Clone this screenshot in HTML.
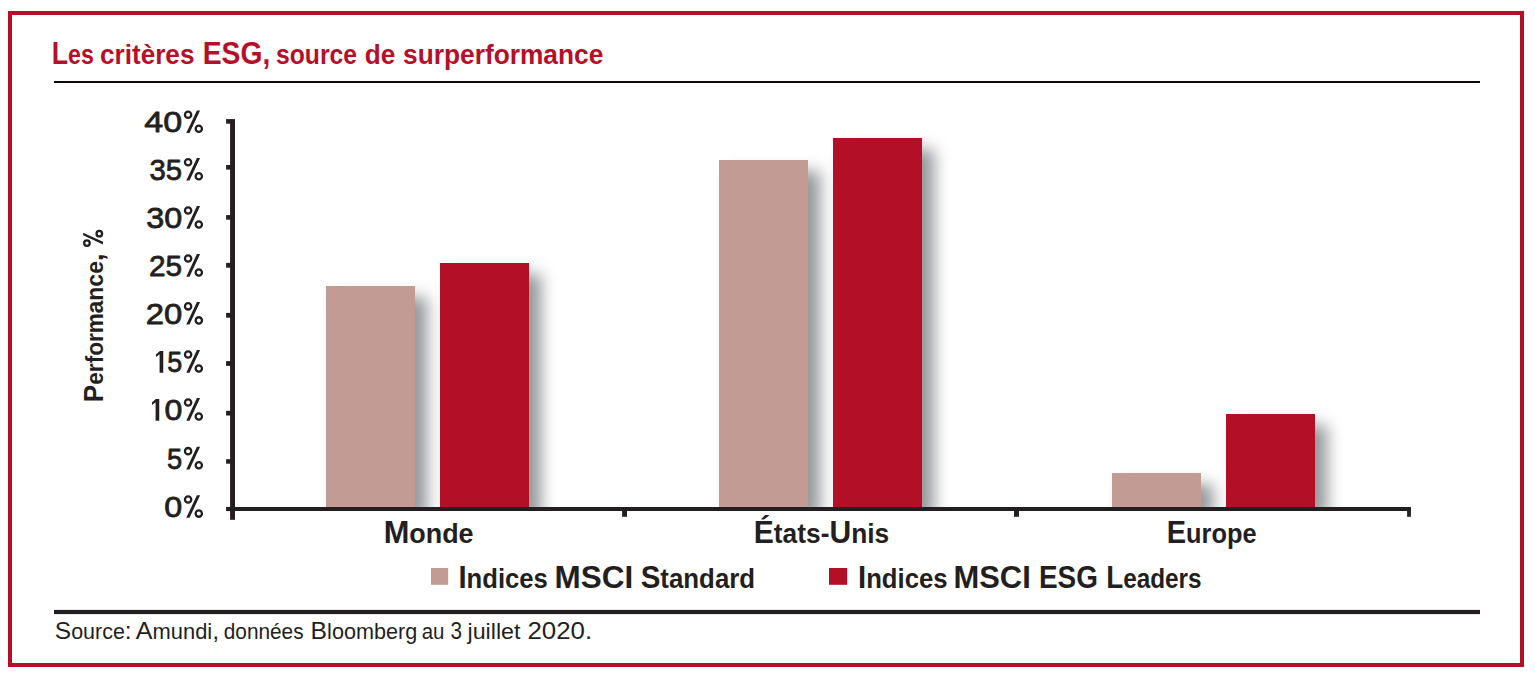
<!DOCTYPE html>
<html lang="fr">
<head>
<meta charset="utf-8">
<title>Les critères ESG, source de surperformance</title>
<style>
  html, body { margin: 0; padding: 0; background: #ffffff; }
  body { width: 1535px; height: 674px; position: relative; overflow: hidden;
         font-family: "Liberation Sans", sans-serif; color: #231f20; }
  .plot { position: absolute; left: 235px; top: 100px; width: 1200px; height: 407px; overflow: hidden; }
  .bar { position: absolute; width: 89px; bottom: 0; box-shadow: 12px 11px 15px rgb(148,150,154); }
  .std { background: #c29b94; }
  .esg { background: #b30f27; }
  svg.ov { position: absolute; left: 0; top: 0; font-family: "Liberation Sans", sans-serif; }
  svg.ov text { white-space: pre; }
</style>
</head>
<body>
  <!-- plot area with bars (shadows clipped at the x axis) -->
  <div class="plot">
    <div class="bar std" style="left:91px;  height:221px;"></div>
    <div class="bar esg" style="left:205px; height:244px;"></div>
    <div class="bar std" style="left:484px; height:347px;"></div>
    <div class="bar esg" style="left:598px; height:369px;"></div>
    <div class="bar std" style="left:877px; height:34px;"></div>
    <div class="bar esg" style="left:991px; height:93px;"></div>
  </div>

  <svg class="ov" width="1535" height="674" viewBox="0 0 1535 674">
    <!-- outer frame -->
    <rect x="10" y="13" width="1512" height="652" fill="none" stroke="#b50f29" stroke-width="4"/>
    <!-- rules -->
    <rect x="54" y="81" width="1426" height="2" fill="#0d0909"/>
    <rect x="54" y="609.9" width="1426" height="4.2" fill="#231f20"/>
    <!-- axes -->
    <g fill="#231f20">
      <rect x="230.1" y="119.1" width="4.9" height="400.7"/>
      <rect x="230.1" y="507" width="1180.8" height="4"/>
      <rect x="226.1" y="119.1" width="5" height="4.6"/>
      <rect x="226.1" y="165" width="5" height="4.6"/>
      <rect x="226.1" y="215.1" width="5" height="4.6"/>
      <rect x="226.1" y="262.9" width="5" height="4.8"/>
      <rect x="226.1" y="312.9" width="5" height="4.8"/>
      <rect x="226.1" y="361.1" width="5" height="4.8"/>
      <rect x="226.1" y="410.8" width="5" height="4.7"/>
      <rect x="226.1" y="459.2" width="5" height="4.5"/>
      <rect x="226.1" y="506.9" width="5" height="4.2"/>
      <rect x="622.1" y="507" width="4.9" height="9.8"/>
      <rect x="1014" y="507" width="5" height="9.8"/>
      <rect x="1407.1" y="507" width="3.8" height="9.8"/>
    </g>
    <rect x="431" y="568" width="17.2" height="16.8" fill="#c29b94"/>
    <rect x="829" y="568" width="18.2" height="16.8" fill="#b30f27"/>
    <!-- custom % and 1 glyphs for tick labels -->
    <circle cx="188.1" cy="114.75" r="3.15" fill="none" stroke="#231f20" stroke-width="2.3"/>
    <circle cx="198.8" cy="128.80" r="3.15" fill="none" stroke="#231f20" stroke-width="2.3"/>
    <polygon points="196.9,110.40 200.1,110.40 189.5,133.00 186.3,133.00" fill="#231f20"/>
    <circle cx="188.1" cy="162.25" r="3.15" fill="none" stroke="#231f20" stroke-width="2.3"/>
    <circle cx="198.8" cy="176.30" r="3.15" fill="none" stroke="#231f20" stroke-width="2.3"/>
    <polygon points="196.9,157.90 200.1,157.90 189.5,180.50 186.3,180.50" fill="#231f20"/>
    <circle cx="188.1" cy="210.45" r="3.15" fill="none" stroke="#231f20" stroke-width="2.3"/>
    <circle cx="198.8" cy="224.50" r="3.15" fill="none" stroke="#231f20" stroke-width="2.3"/>
    <polygon points="196.9,206.10 200.1,206.10 189.5,228.70 186.3,228.70" fill="#231f20"/>
    <circle cx="188.1" cy="258.45" r="3.15" fill="none" stroke="#231f20" stroke-width="2.3"/>
    <circle cx="198.8" cy="272.50" r="3.15" fill="none" stroke="#231f20" stroke-width="2.3"/>
    <polygon points="196.9,254.10 200.1,254.10 189.5,276.70 186.3,276.70" fill="#231f20"/>
    <circle cx="188.1" cy="306.35" r="3.15" fill="none" stroke="#231f20" stroke-width="2.3"/>
    <circle cx="198.8" cy="320.40" r="3.15" fill="none" stroke="#231f20" stroke-width="2.3"/>
    <polygon points="196.9,302.00 200.1,302.00 189.5,324.60 186.3,324.60" fill="#231f20"/>
    <circle cx="188.1" cy="354.45" r="3.15" fill="none" stroke="#231f20" stroke-width="2.3"/>
    <circle cx="198.8" cy="368.50" r="3.15" fill="none" stroke="#231f20" stroke-width="2.3"/>
    <polygon points="196.9,350.10 200.1,350.10 189.5,372.70 186.3,372.70" fill="#231f20"/>
    <polygon points="163.25,350.90 159.90,350.90 155.90,354.40 156.10,357.10 159.60,354.20 159.60,372.70 163.25,372.70" fill="#231f20"/>
    <circle cx="188.1" cy="402.45" r="3.15" fill="none" stroke="#231f20" stroke-width="2.3"/>
    <circle cx="198.8" cy="416.50" r="3.15" fill="none" stroke="#231f20" stroke-width="2.3"/>
    <polygon points="196.9,398.10 200.1,398.10 189.5,420.70 186.3,420.70" fill="#231f20"/>
    <polygon points="159.25,398.90 155.90,398.90 151.90,402.40 152.10,405.10 155.60,402.20 155.60,420.70 159.25,420.70" fill="#231f20"/>
    <circle cx="188.1" cy="451.15" r="3.15" fill="none" stroke="#231f20" stroke-width="2.3"/>
    <circle cx="198.8" cy="465.20" r="3.15" fill="none" stroke="#231f20" stroke-width="2.3"/>
    <polygon points="196.9,446.80 200.1,446.80 189.5,469.40 186.3,469.40" fill="#231f20"/>
    <circle cx="188.1" cy="499.55" r="3.15" fill="none" stroke="#231f20" stroke-width="2.3"/>
    <circle cx="198.8" cy="513.60" r="3.15" fill="none" stroke="#231f20" stroke-width="2.3"/>
    <polygon points="196.9,495.20 200.1,495.20 189.5,517.80 186.3,517.80" fill="#231f20"/>
    <!-- text -->
    <text x="51.83" y="64.0" textLength="42.04" lengthAdjust="spacingAndGlyphs" font-size="31.9" font-weight="bold" fill="#b50f29">L<tspan font-size="27.91">es</tspan></text>
    <text x="100.06" y="64.0" textLength="94.37" lengthAdjust="spacingAndGlyphs" font-size="31.9" font-weight="bold" fill="#b50f29"><tspan font-size="27.91">critères</tspan></text>
    <text x="202.71" y="64.0" textLength="67.56" lengthAdjust="spacingAndGlyphs" font-size="31.9" font-weight="bold" fill="#b50f29">ESG,</text>
    <text x="276.01" y="64.0" textLength="81.09" lengthAdjust="spacingAndGlyphs" font-size="31.9" font-weight="bold" fill="#b50f29"><tspan font-size="27.91">source</tspan></text>
    <text x="364.73" y="64.0" textLength="30.59" lengthAdjust="spacingAndGlyphs" font-size="31.9" font-weight="bold" fill="#b50f29"><tspan font-size="27.91">de</tspan></text>
    <text x="403.06" y="64.0" textLength="200.27" lengthAdjust="spacingAndGlyphs" font-size="31.9" font-weight="bold" fill="#b50f29"><tspan font-size="27.91">surperformance</tspan></text>
    <text x="144.32" y="132.3" textLength="37.89" lengthAdjust="spacingAndGlyphs" font-size="30.4" font-weight="normal" fill="#231f20" stroke="#231f20" stroke-width="0.8" stroke-linejoin="round">40</text>
    <text x="149.48" y="179.8" textLength="32.61" lengthAdjust="spacingAndGlyphs" font-size="30.4" font-weight="normal" fill="#231f20" stroke="#231f20" stroke-width="0.8" stroke-linejoin="round">35</text>
    <text x="146.2" y="228.0" textLength="35.96" lengthAdjust="spacingAndGlyphs" font-size="30.4" font-weight="normal" fill="#231f20" stroke="#231f20" stroke-width="0.8" stroke-linejoin="round">30</text>
    <text x="148.98" y="276.0" textLength="33.12" lengthAdjust="spacingAndGlyphs" font-size="30.4" font-weight="normal" fill="#231f20" stroke="#231f20" stroke-width="0.8" stroke-linejoin="round">25</text>
    <text x="145.65" y="323.9" textLength="36.53" lengthAdjust="spacingAndGlyphs" font-size="30.4" font-weight="normal" fill="#231f20" stroke="#231f20" stroke-width="0.8" stroke-linejoin="round">20</text>
    <text x="167.14" y="372.0" textLength="14.97" lengthAdjust="spacingAndGlyphs" font-size="30.4" font-weight="normal" fill="#231f20" stroke="#231f20" stroke-width="0.8" stroke-linejoin="round">5</text>
    <text x="164.41" y="420.0" textLength="17.85" lengthAdjust="spacingAndGlyphs" font-size="30.4" font-weight="normal" fill="#231f20" stroke="#231f20" stroke-width="0.8" stroke-linejoin="round">0</text>
    <text x="166.93" y="468.7" textLength="15.19" lengthAdjust="spacingAndGlyphs" font-size="30.4" font-weight="normal" fill="#231f20" stroke="#231f20" stroke-width="0.8" stroke-linejoin="round">5</text>
    <text x="164.3" y="517.1" textLength="17.96" lengthAdjust="spacingAndGlyphs" font-size="30.4" font-weight="normal" fill="#231f20" stroke="#231f20" stroke-width="0.8" stroke-linejoin="round">0</text>
    <g transform="translate(103 400.5) rotate(-90)">
      <text x="-1.7" y="0" textLength="88.98" lengthAdjust="spacingAndGlyphs" font-size="27" font-weight="bold" fill="#231f20">P<tspan font-size="23.22">erform</tspan></text>
      <text x="87.06" y="0" textLength="59.83" lengthAdjust="spacingAndGlyphs" font-size="27" font-weight="bold" fill="#231f20"><tspan font-size="23.22">ance</tspan>,</text>
      <g transform="translate(153.7 0) scale(0.88)"><circle cx="4.2" cy="-18.25" r="3.15" fill="none" stroke="#231f20" stroke-width="2.6"/><circle cx="14.9" cy="-4.2" r="3.15" fill="none" stroke="#231f20" stroke-width="2.6"/><polygon points="13.1,-22.6 16.1,-22.6 5.6,0 2.6,0" fill="#231f20"/></g>
    </g>
    <text x="383.64" y="542.6" textLength="89.97" lengthAdjust="spacingAndGlyphs" font-size="31.4" font-weight="bold" fill="#231f20">M<tspan font-size="27.47">onde</tspan></text>
    <text x="753.78" y="542.6" textLength="135.44" lengthAdjust="spacingAndGlyphs" font-size="31.4" font-weight="bold" fill="#231f20">É<tspan font-size="27.47">tats-</tspan>U<tspan font-size="27.47">nis</tspan></text>
    <text x="1166.75" y="542.6" textLength="89.77" lengthAdjust="spacingAndGlyphs" font-size="31.4" font-weight="bold" fill="#231f20">E<tspan font-size="27.47">urope</tspan></text>
    <text x="458.43" y="587.6" textLength="89.42" lengthAdjust="spacingAndGlyphs" font-size="31.4" font-weight="bold" fill="#231f20">I<tspan font-size="27.47">ndices</tspan></text>
    <text x="554.6" y="587.6" textLength="78.54" lengthAdjust="spacingAndGlyphs" font-size="31.4" font-weight="bold" fill="#231f20">MSCI</text>
    <text x="640.66" y="587.6" textLength="114.45" lengthAdjust="spacingAndGlyphs" font-size="31.4" font-weight="bold" fill="#231f20">S<tspan font-size="27.47">tandard</tspan></text>
    <text x="858.03" y="587.6" textLength="89.42" lengthAdjust="spacingAndGlyphs" font-size="31.4" font-weight="bold" fill="#231f20">I<tspan font-size="27.47">ndices</tspan></text>
    <text x="953.53" y="587.6" textLength="77.27" lengthAdjust="spacingAndGlyphs" font-size="31.4" font-weight="bold" fill="#231f20">MSCI</text>
    <text x="1039.02" y="587.6" textLength="58.9" lengthAdjust="spacingAndGlyphs" font-size="31.4" font-weight="bold" fill="#231f20">ESG</text>
    <text x="1106.13" y="587.6" textLength="95.47" lengthAdjust="spacingAndGlyphs" font-size="31.4" font-weight="bold" fill="#231f20">L<tspan font-size="27.47">eaders</tspan></text>
    <text x="54.76" y="638.8" textLength="76.92" lengthAdjust="spacingAndGlyphs" font-size="24.8" font-weight="normal" fill="#231f20">S<tspan font-size="21.7">ource</tspan>:</text>
    <text x="135.8" y="638.8" textLength="83.39" lengthAdjust="spacingAndGlyphs" font-size="24.8" font-weight="normal" fill="#231f20">A<tspan font-size="21.7">mundi</tspan>,</text>
    <text x="223.74" y="638.8" textLength="79.85" lengthAdjust="spacingAndGlyphs" font-size="24.8" font-weight="normal" fill="#231f20"><tspan font-size="21.7">données</tspan></text>
    <text x="310.61" y="638.8" textLength="106.66" lengthAdjust="spacingAndGlyphs" font-size="24.8" font-weight="normal" fill="#231f20">B<tspan font-size="21.7">loomberg</tspan></text>
    <text x="421.66" y="638.8" textLength="22.74" lengthAdjust="spacingAndGlyphs" font-size="24.8" font-weight="normal" fill="#231f20"><tspan font-size="21.7">au</tspan></text>
    <text x="450.47" y="638.8" textLength="11.51" lengthAdjust="spacingAndGlyphs" font-size="24.8" font-weight="normal" fill="#231f20">3</text>
    <text x="467.54" y="638.8" textLength="52.95" lengthAdjust="spacingAndGlyphs" font-size="24.8" font-weight="normal" fill="#231f20"><tspan font-size="21.7">juillet</tspan></text>
    <text x="527.4" y="638.8" textLength="64.71" lengthAdjust="spacingAndGlyphs" font-size="24.8" font-weight="normal" fill="#231f20">2020.</text>
  </svg>
</body>
</html>
